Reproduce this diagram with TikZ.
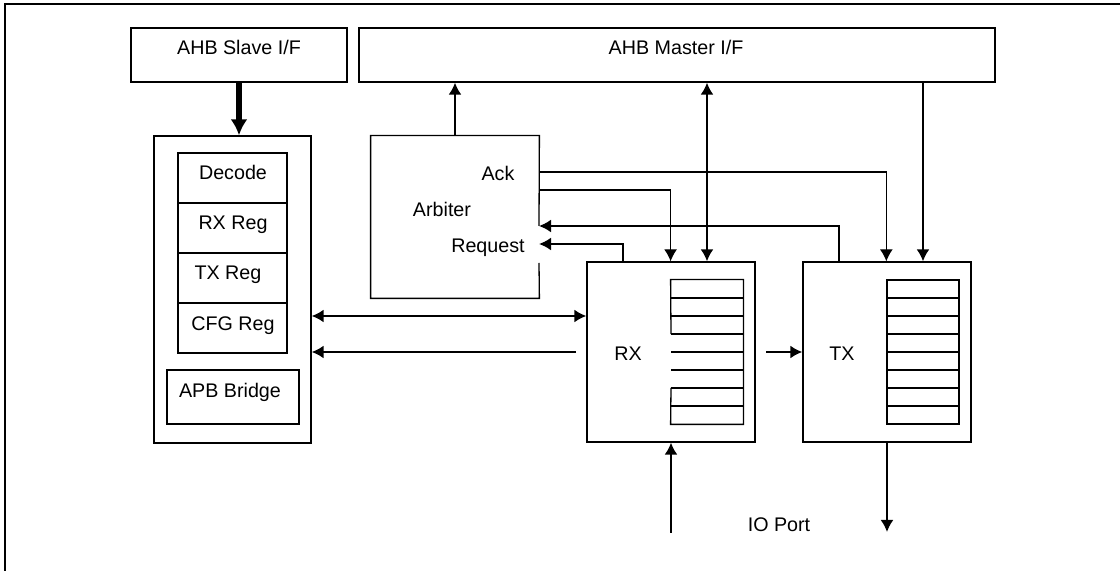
\documentclass[tikz,border=0pt]{standalone}
\usepackage{fontspec}
\setmainfont{Liberation Sans}
\usetikzlibrary{arrows.meta,fit}

\begin{document}
\begin{tikzpicture}[
    x=0.5pt, y=-0.5pt,
    font=\fontsize{9.85}{12}\selectfont,
    box/.style={draw, line width=0.65pt, inner sep=0pt}, % Стиль для блоков
    txt/.style={anchor=base, inner sep=0pt}, % Стиль для подписей
    wire/.style={line width=0.65pt}, % Тонкие линии
    ack/.style={line width=0.65pt, -{Latex[length=6pt,width=6.5pt]}}, % Тонкие стрелки
    req/.style={line width=1pt, -{Latex[length=6pt,width=6.5pt]}}, % Стрелки запросов
    arrow/.style={line width=1pt, -{Latex[length=6pt,width=6.5pt]}}, % Обычные стрелки
    biarrow/.style={line width=1pt, {Latex[length=6pt,width=6.5pt]}-{Latex[length=6pt,width=6.5pt]}}, % Двусторонние стрелки
    bus/.style={line width=3pt, -{Latex[length=8pt,width=8.5pt]}} % Толстая стрелка
]
    \useasboundingbox (0,0) rectangle (1120,571);

    % Рамка
    \draw[line width=1.4pt] (5,571) -- (5,4) -- (1120,4);

    % Шины AHB
    \node[box, fit={(131,28) (347,82)}] (slave) {};
    \node[box, fit={(359,28) (995,82)}] (master) {};
    \node[txt] (slavetxt) at (239,55) {AHB Slave I/F};
    \node[txt] (mastertxt) at (676,55) {AHB Master I/F};

    % Блок регистров
    \node[box, fit={(154,136) (311,443)}] (ctrl) {};
    \node[box, fit={(178,153) (287,203)}] (decode) {};
    \node[box, fit={(178,203) (287,253)}] (rxreg) {};
    \node[box, fit={(178,253) (287,303)}] (txreg) {};
    \node[box, fit={(178,303) (287,353)}] (cfgreg) {};
    \node[box, fit={(167,370) (299,424)}] (apb) {};
    \node[txt] (decodetxt) at (233,180) {Decode};
    \node[txt] (rxregtxt) at (233,230) {RX Reg};
    \node[txt] (txregtxt) at (228,280) {TX Reg};
    \node[txt] (cfgregtxt) at (233,331) {CFG Reg};
    \node[txt] (apbtxt) at (230,398) {APB Bridge};

    % Арбитр (с разрывом справа)
    \node[fit={(371,136) (539,298)}, inner sep=0pt] (arb) {};
    \coordinate (acktx) at (539,172);
    \coordinate (ackrx) at (539,190);
    \coordinate (txin) at (539,226);
    \coordinate (rxin) at (539,244);
    \coordinate (arbgap) at (539,263);
    \draw[wire] (txin) -- (arb.north east) -- (arb.north west)
        -- (arb.south west) -- (arb.south east) -- (arbgap);
    \node[txt] (acktxt) at (498,181) {Ack};
    \node[txt] (arbtxt) at (442,217) {Arbiter};
    \node[txt] (reqtxt) at (488,253) {Request};

    % RX и TX
    \node[box, fit={(587,262) (755,442)}] (rx) {};
    \node[box, fit={(803,262) (971,442)}] (tx) {};
    \node[txt] (rxtxt) at (628,361) {RX};
    \node[txt] (txtxt) at (842,361) {TX};

    % FIFO
    \node[fit={(671,280) (743,424)}, inner sep=0pt] (rxfifo) {};
    \draw[wire] (671,334) -- (rxfifo.north west) -- (rxfifo.north east)
        -- (rxfifo.south east) -- (rxfifo.south west) -- (671,388);
    \foreach \y in {298,316,...,406}
        \draw[wire] (671,\y) -- (743,\y);
    \node[box, fit={(887,280) (959,424)}] (txfifo) {};
    \foreach \y in {298,316,...,406}
        \draw[wire] (887,\y) -- (959,\y);

    % Связи
    \coordinate (rxreq) at (623,262);
    \coordinate (txreq) at (839,262);
    \coordinate (cfgbus) at (0,316);
    \coordinate (rdout) at (576,352);
    \coordinate (fwd) at (766,352);
    \coordinate (ioin) at (671,533);
    \coordinate (ioout) at (887,532);

    \draw[bus] (slave.south) -- (slave.south |- ctrl.north);
    \draw[arrow] (arb.north) -- (arb.north |- master.south);
    \draw[biarrow] (rxfifo.north |- master.south) -- (rxfifo.north |- rx.north);
    \draw[arrow] (txfifo.north |- master.south) -- (txfifo.north |- tx.north);
    \draw[ack] (acktx) -| (txfifo.north west |- tx.north);
    \draw[ack] (ackrx) -| (rxfifo.north west |- rx.north);
    \draw[req] (txreq) |- (txin);
    \draw[req] (rxreq) |- (rxin);
    \draw[biarrow] (ctrl.east |- cfgbus) -- (rx.west |- cfgbus);
    \draw[arrow] (rdout) -- (ctrl.east |- rdout);
    \draw[arrow] (fwd) -- (tx.west |- fwd);
    \draw[arrow] (ioin) -- (ioin |- rx.south);
    \draw[arrow] (ioout |- tx.south) -- (ioout);
    \node[txt] (iotxt) at (779,532) {IO Port};

\end{tikzpicture}
\end{document}
